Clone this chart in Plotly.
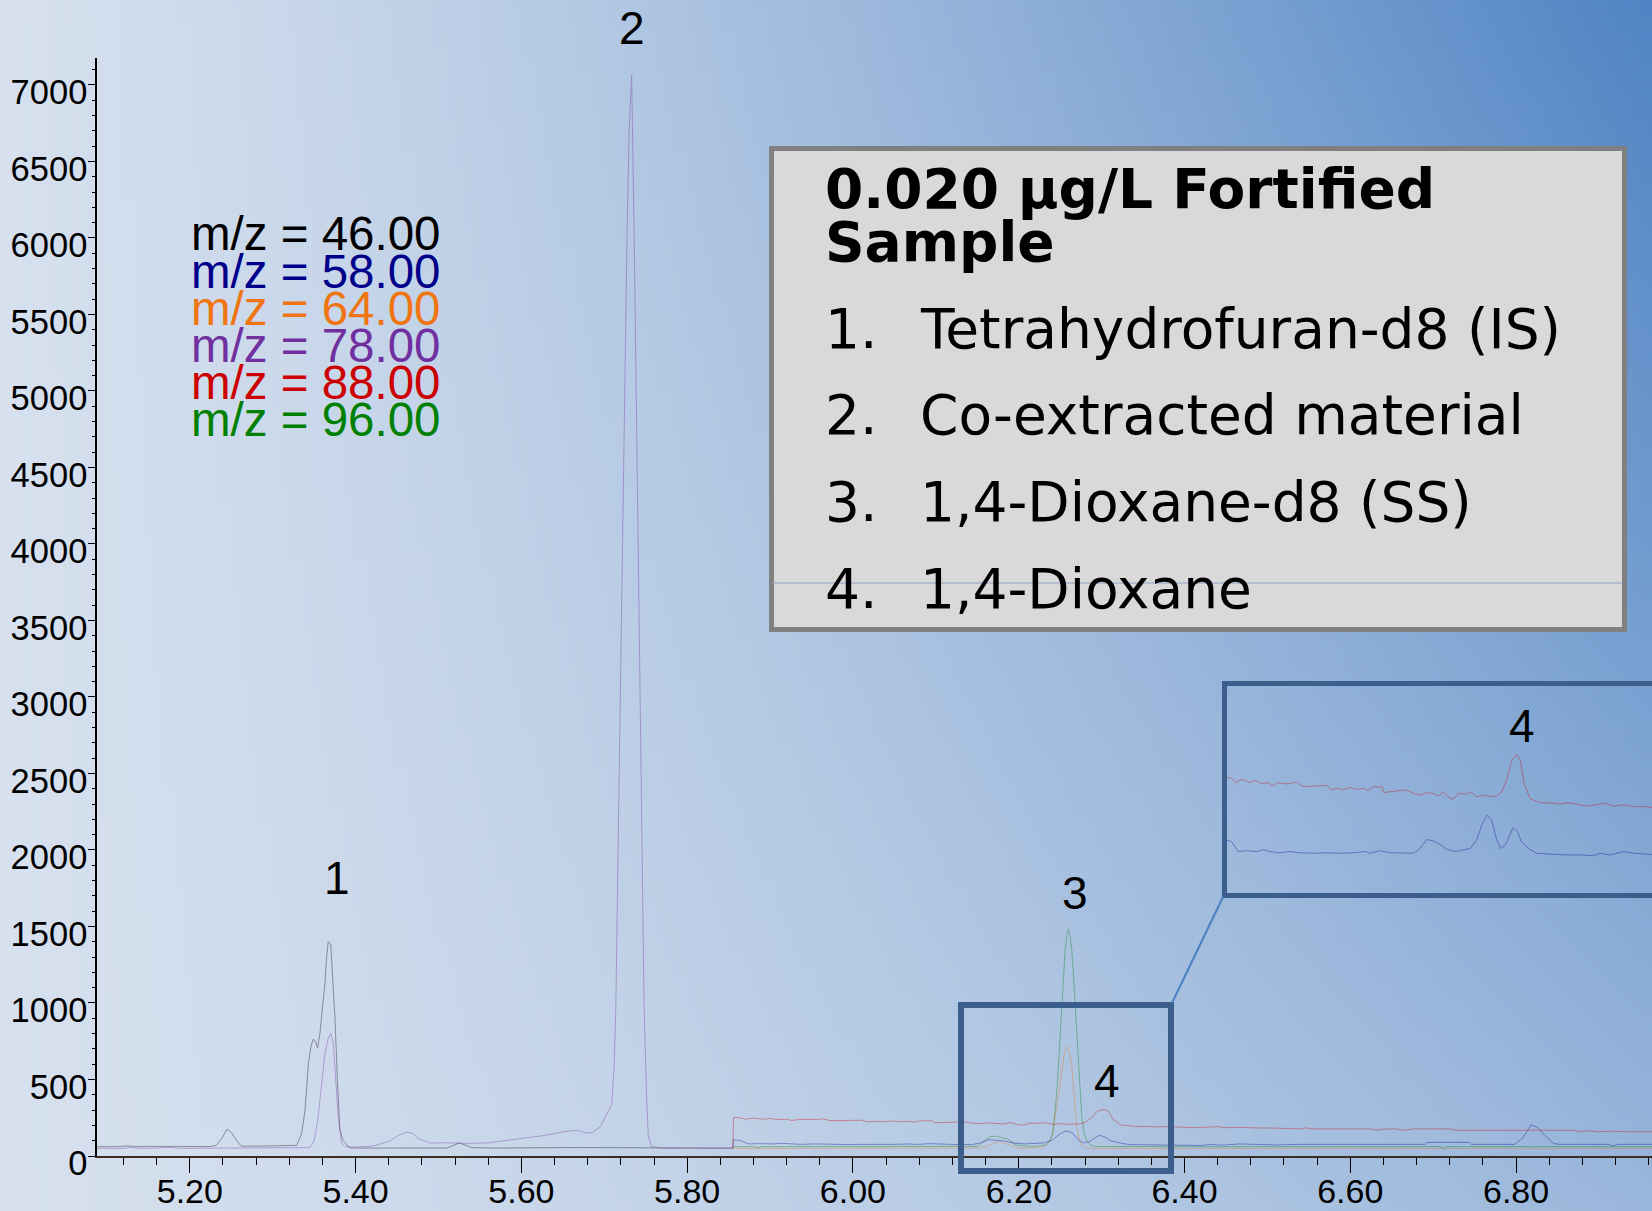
import zlib, struct, base64
import plotly.graph_objects as go

W, H = 1652, 1211
ML, MR, MT, MB = 97, 0, 58, 55

# ---------------- data ----------------
# m/z 46 (segment 1)
t46 = [5.088, 5.110, 5.125, 5.135, 5.150, 5.170, 5.200, 5.225, 5.232, 5.238, 5.245, 5.250, 5.256, 5.262,
       5.280, 5.300, 5.329, 5.335, 5.339, 5.343, 5.346, 5.349, 5.352, 5.354, 5.357, 5.360, 5.363, 5.365,
       5.367, 5.370, 5.372, 5.375, 5.378, 5.381, 5.385, 5.389, 5.393, 5.420, 5.450, 5.480, 5.510, 5.518,
       5.525, 5.532, 5.540, 5.570, 5.600, 5.650, 5.700, 5.750, 5.800, 5.855]
i46 = [61, 61, 66, 61, 63, 61, 62, 62, 70, 110, 176, 155, 105, 64,
       63, 66, 70, 150, 300, 600, 714, 764, 745, 705, 802, 950, 1130, 1300,
       1400, 1385, 1200, 910, 500, 170, 100, 72, 52, 52, 50, 52, 52, 70,
       85, 72, 55, 52, 54, 55, 55, 52, 52, 52]

# m/z 78 (segment 1)
t78 = [5.088, 5.120, 5.128, 5.140, 5.160, 5.175, 5.190, 5.230, 5.270, 5.300, 5.345, 5.350, 5.354, 5.357,
       5.360, 5.363, 5.367, 5.370, 5.373, 5.375, 5.377, 5.379, 5.383, 5.388, 5.400, 5.420, 5.440, 5.452,
       5.461, 5.468, 5.477, 5.490, 5.510, 5.540, 5.560, 5.580, 5.600, 5.625, 5.654, 5.668, 5.678, 5.686,
       5.695, 5.702, 5.709, 5.712, 5.714, 5.718, 5.722, 5.725, 5.7275, 5.730, 5.733, 5.736, 5.7385, 5.741,
       5.745, 5.748, 5.751, 5.753, 5.757, 5.770, 5.800, 5.855]
i78 = [50, 50, 56, 50, 52, 56, 50, 52, 50, 52, 55, 100, 220, 366,
       520, 672, 770, 803, 740, 584, 420, 257, 85, 61, 58, 64, 95, 135,
       155, 150, 110, 85, 86, 82, 86, 100, 118, 132, 161, 168, 150, 155,
       190, 260, 338, 600, 994, 2500, 4023, 5100, 6041, 6700, 7065, 6041, 5000, 4023,
       2500, 994, 400, 136, 61, 52, 52, 50]

# m/z 88 (segment 2)
t88 = [5.855, 5.856, 5.864, 5.871, 5.880, 5.892, 5.900, 5.910, 5.921, 5.926, 5.936, 5.946, 5.956, 5.964,
       5.972, 5.982, 5.997, 6.010, 6.018, 6.026, 6.036, 6.046, 6.056, 6.067, 6.074, 6.082, 6.090, 6.095,
       6.098, 6.110, 6.123, 6.133, 6.144, 6.154, 6.164, 6.174, 6.182, 6.190, 6.197, 6.205, 6.213, 6.226,
       6.231, 6.241, 6.251, 6.262, 6.272, 6.280, 6.287, 6.295, 6.303, 6.308, 6.314, 6.323, 6.333, 6.344,
       6.354, 6.369, 6.380, 6.395, 6.410, 6.426, 6.439, 6.451, 6.467, 6.482, 6.498, 6.511, 6.539, 6.547,
       6.555, 6.623, 6.631, 6.640, 6.656, 6.664, 6.676, 6.722, 6.726, 6.870, 6.876, 6.890, 6.900, 6.915,
       6.930, 6.965]
i88 = [52, 252, 250, 240, 248, 240, 245, 238, 240, 232, 240, 237, 238, 242,
       232, 231, 232, 234, 223, 227, 223, 229, 224, 227, 221, 231, 229, 232,
       217, 219, 221, 223, 215, 211, 217, 215, 209, 219, 207, 201, 215, 213,
       219, 207, 211, 207, 209, 219, 246, 293, 305, 293, 238, 203, 196, 192,
       193, 190, 193, 190, 185, 188, 192, 185, 188, 184, 184, 182, 177, 184,
       177, 177, 169, 176, 177, 167, 177, 177, 168, 168, 160, 164, 158, 163,
       159, 159]

# m/z 58 (segment 2)
t58 = [5.855, 5.856, 5.864, 5.874, 5.887, 5.903, 5.913, 5.923, 5.938, 5.954, 5.969, 5.990, 6.010, 6.031,
       6.051, 6.069, 6.077, 6.092, 6.108, 6.123, 6.144, 6.154, 6.164, 6.174, 6.182, 6.195, 6.208, 6.221,
       6.231, 6.241, 6.250, 6.257, 6.264, 6.272, 6.278, 6.285, 6.292, 6.297, 6.304, 6.310, 6.321, 6.333,
       6.354, 6.380, 6.405, 6.420, 6.431, 6.446, 6.467, 6.482, 6.511, 6.539, 6.690, 6.692, 6.744, 6.746,
       6.798, 6.808, 6.818, 6.826, 6.834, 6.845, 6.852, 6.912, 6.917, 6.922, 6.965]
i58 = [52, 106, 102, 79, 81, 79, 83, 79, 76, 79, 76, 75, 76, 75,
       76, 79, 75, 81, 76, 75, 75, 86, 107, 104, 98, 84, 79, 83,
       86, 106, 145, 164, 153, 106, 86, 94, 118, 135, 125, 102, 86, 75,
       73, 71, 71, 69, 75, 71, 79, 75, 72, 76, 76, 89, 89, 76,
       76, 116, 203, 187, 137, 83, 76, 76, 65, 76, 76]

# m/z 96 (segment 2)
t96 = [5.855, 5.856, 5.880, 5.884, 5.889, 5.950, 6.000, 6.050, 6.100, 6.150, 6.157, 6.165, 6.173, 6.180,
       6.187, 6.197, 6.217, 6.233, 6.238, 6.241, 6.244, 6.247, 6.250, 6.253, 6.256, 6.258, 6.260, 6.262,
       6.264, 6.267, 6.270, 6.273, 6.276, 6.279, 6.282, 6.286, 6.290, 6.400, 6.600, 6.708, 6.712, 6.716,
       6.965]
i96 = [52, 61, 61, 52, 61, 61, 62, 60, 61, 63, 93, 125, 130, 122,
       110, 72, 61, 72, 100, 148, 300, 500, 801, 1100, 1346, 1440, 1483, 1440,
       1346, 1100, 801, 500, 257, 150, 104, 75, 63, 61, 61, 61, 50, 61,
       61]

# m/z 64 (segment 2)
t64 = [5.855, 5.856, 6.000, 6.150, 6.161, 6.170, 6.177, 6.185, 6.192, 6.201, 6.229, 6.237, 6.241, 6.245,
       6.249, 6.252, 6.255, 6.258, 6.261, 6.264, 6.267, 6.270, 6.273, 6.276, 6.282, 6.965]
i64 = [50, 50, 50, 52, 61, 85, 93, 80, 66, 50, 56, 90, 148, 300,
       460, 580, 670, 714, 690, 584, 400, 191, 110, 72, 50, 50]

x_tickvals = [5.2, 5.4, 5.6, 5.8, 6.0, 6.2, 6.4, 6.6, 6.8]
x_ticktext = ["5.20", "5.40", "5.60", "5.80", "6.00", "6.20", "6.40", "6.60", "6.80"]
y_tickvals = [0, 500, 1000, 1500, 2000, 2500, 3000, 3500, 4000, 4500, 5000, 5500, 6000, 6500, 7000]
y_ticktext = [str(v) for v in y_tickvals]

mz_labels = ["m/z = 46.00", "m/z = 58.00", "m/z = 64.00", "m/z = 78.00", "m/z = 88.00", "m/z = 96.00"]
mz_colors = ["#000000", "#00008b", "#ee7512", "#7030a0", "#cc0000", "#008000"]

legend_title = ["0.020 µg/L Fortified", "Sample"]
legend_nums = ["1.", "2.", "3.", "4."]
legend_items = ["Tetrahydrofuran-d8 (IS)", "Co-extracted material", "1,4-Dioxane-d8 (SS)", "1,4-Dioxane"]

peak_labels = ["1", "2", "3", "4"]

# ---------------- helpers ----------------
PW = W - ML - MR
PH = H - MT - MB


def px(x):
    return (x - ML) / PW


def py(y):
    return (H - MB - y) / PH


def bg_color(xn, yn):
    light = (214, 224, 238)
    dark = (80, 132, 196)
    d = (xn ** 1.3) * (1 - 0.55 * yn)
    return tuple(int(round(l + (k - l) * d)) for l, k in zip(light, dark))


def make_png(w, h):
    raw = bytearray()
    for j in range(h):
        raw.append(0)
        for i in range(w):
            raw += bytes(bg_color(i / (w - 1), j / (h - 1)))

    def chunk(t, d):
        c = struct.pack('>I', len(d)) + t + d
        return c + struct.pack('>I', zlib.crc32(t + d) & 0xffffffff)

    png = (b'\x89PNG\r\n\x1a\n'
           + chunk(b'IHDR', struct.pack('>IIBBBBB', w, h, 8, 2, 0, 0, 0))
           + chunk(b'IDAT', zlib.compress(bytes(raw), 9))
           + chunk(b'IEND', b''))
    return 'data:image/png;base64,' + base64.b64encode(png).decode()


# ---------------- figure ----------------
fig = go.Figure()

OP = 0.36
main_traces = [(t46, i46, "#000000"), (t78, i78, "#7030a0"), (t64, i64, "#ee7512"),
               (t96, i96, "#008000"), (t58, i58, "#00008b"), (t88, i88, "#cc0000")]
for t, v, c in main_traces:
    fig.add_trace(go.Scatter(x=t, y=v, mode='lines', line=dict(color=c, width=1),
                             opacity=OP, hoverinfo='skip', showlegend=False))

for t, v, c in [(t58, i58, "#00008b"), (t88, i88, "#cc0000")]:
    fig.add_trace(go.Scatter(x=t, y=v, mode='lines', line=dict(color=c, width=1),
                             opacity=OP, hoverinfo='skip', showlegend=False,
                             xaxis='x2', yaxis='y2'))

xtickfont = dict(family="Liberation Sans, Arial", size=34, color="black")
ytickfont = dict(family="Liberation Sans, Arial", size=34.5, color="black")

# inset geometry (pixels) and calibration
inset_x0, inset_x1 = 1227, 1652
inset_y0, inset_y1 = 686, 893
inset_xrange = [6.30 + (inset_x0 - 1515) / 650, 6.30 + (inset_x1 - 1515) / 650]
inset_yrange = [2069 - inset_y1 * 2.337, 2069 - inset_y0 * 2.337]

fig.update_layout(
    width=W, height=H,
    margin=dict(l=ML, r=MR, t=MT, b=MB, pad=0, autoexpand=False),
    paper_bgcolor='rgba(0,0,0,0)', plot_bgcolor='rgba(0,0,0,0)',
    xaxis=dict(range=[5.088, 6.964], domain=[0, 1], showline=True, linecolor='#3a2e22', linewidth=1.5,
               ticks='outside', ticklen=15, tickwidth=1, tickcolor='black', automargin=False,
               tickmode='array', tickvals=x_tickvals, ticktext=x_ticktext, tickfont=xtickfont,
               ticklabelstandoff=-11,
               showgrid=False, zeroline=False,
               minor=dict(tickmode='linear', tick0=5.2, dtick=0.04, ticks='outside', ticklen=7,
                          tickwidth=1, tickcolor='black', showgrid=False)),
    yaxis=dict(range=[0, 7176], domain=[0, 1], showline=True, linecolor='black', linewidth=1.5,
               ticks='outside', ticklen=7, tickwidth=1, tickcolor='black', automargin=False,
               tickmode='array', tickvals=y_tickvals, ticktext=y_ticktext, tickfont=ytickfont,
               ticklabelstandoff=-6, ticklabelshift=7,
               showgrid=False, zeroline=False,
               minor=dict(tickmode='linear', tick0=0, dtick=100, ticks='outside', ticklen=3,
                          tickwidth=1, tickcolor='black', showgrid=False)),
    xaxis2=dict(domain=[px(inset_x0), px(inset_x1)], range=inset_xrange, anchor='y2', visible=False),
    yaxis2=dict(domain=[py(inset_y1), py(inset_y0)], range=inset_yrange, anchor='x2', visible=False),
    images=[dict(source=make_png(166, 122), xref='paper', yref='paper',
                 x=px(-4), y=py(-4), sizex=(W + 8) / PW, sizey=(H + 8) / PH,
                 xanchor='left', yanchor='top', sizing='stretch', layer='below')],
)

box_col = '#3b5e8c'
shapes = [
    # legend box
    dict(type='rect', xref='paper', yref='paper', x0=px(771.5), x1=px(1624.5), y0=py(148.5), y1=py(629.5),
         line=dict(color='#808080', width=5), fillcolor='#d9d9d9', layer='above'),
    dict(type='line', xref='paper', yref='paper', x0=px(772), x1=px(1622), y0=py(583), y1=py(583),
         line=dict(color='#8ea2c6', width=1), layer='above'),
    # small highlight box
    dict(type='rect', xref='paper', yref='paper', x0=px(961), x1=px(1171), y0=py(1005), y1=py(1171),
         line=dict(color=box_col, width=6), layer='above'),
    # inset box
    dict(type='rect', xref='paper', yref='paper', x0=px(1224.5), x1=px(1720), y0=py(683.5), y1=py(895.5),
         line=dict(color=box_col, width=5), layer='above'),
    # connector
    dict(type='line', xref='paper', yref='paper', x0=px(1172), x1=px(1223), y0=py(1003), y1=py(897),
         line=dict(color='#4a80c4', width=2), layer='above'),
]
fig.update_layout(shapes=shapes)

ann = []
mz_centers = [233, 271, 308, 345, 382, 419]
for txt, col, yc in zip(mz_labels, mz_colors, mz_centers):
    ann.append(dict(text=txt, xref='paper', yref='paper', x=px(189), y=py(yc), xanchor='left',
                    yanchor='middle', showarrow=False,
                    font=dict(family='Liberation Sans, Arial', size=47.5, color=col)))

leg_font = dict(family='DejaVu Sans, Verdana', size=55, color='black')
for txt, yc in zip(legend_title, [189, 242]):
    ann.append(dict(text='<b>' + txt + '</b>', xref='paper', yref='paper', x=px(823), y=py(yc),
                    xanchor='left', yanchor='middle', showarrow=False, font=leg_font))
for n, txt, yc in zip(legend_nums, legend_items, [329, 415, 502, 589]):
    ann.append(dict(text=n, xref='paper', yref='paper', x=px(823), y=py(yc),
                    xanchor='left', yanchor='middle', showarrow=False, font=leg_font))
    ann.append(dict(text=txt, xref='paper', yref='paper', x=px(918), y=py(yc),
                    xanchor='left', yanchor='middle', showarrow=False, font=leg_font))

pk_font = dict(family='Liberation Sans, Arial', size=46, color='black')
for lab, xx, yy in zip([peak_labels[0], peak_labels[2], peak_labels[3]],
                       [5.377, 6.268, 6.307], [1815, 1720, 490]):
    ann.append(dict(text=lab, xref='x', yref='y', x=xx, y=yy, xanchor='center', yanchor='middle',
                    showarrow=False, font=pk_font))
ann.append(dict(text=peak_labels[1], xref='x', yref='paper', x=5.734, y=py(28), xanchor='center',
                yanchor='middle', showarrow=False, font=pk_font))
ann.append(dict(text=peak_labels[3], xref='x2', yref='y2', x=6.311, y=372, xanchor='center',
                yanchor='middle', showarrow=False, font=pk_font))
fig.update_layout(annotations=ann)

fig.write_html("out.html", config={'displayModeBar': False},
               post_script="document.body.style.margin='0';")
